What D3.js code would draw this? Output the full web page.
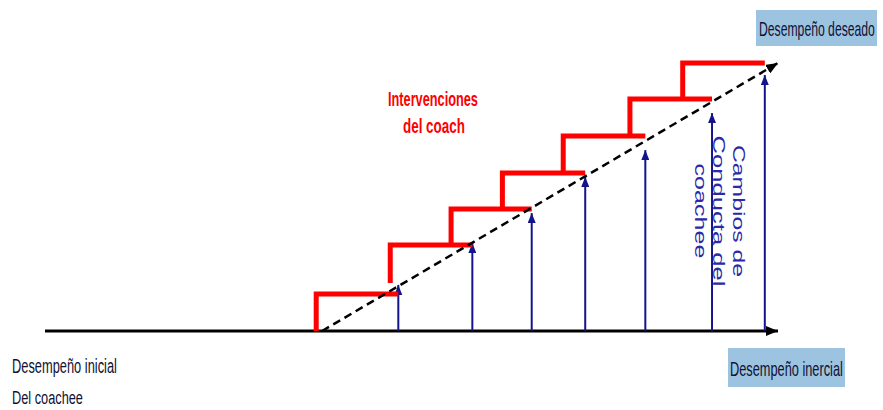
<!DOCTYPE html>
<html>
<head>
<meta charset="utf-8">
<script src="https://cdn.jsdelivr.net/npm/d3@7"></script>
<style>
  html, body { margin: 0; padding: 0; background: #fff; }
  svg { display: block; }
</style>
</head>
<body>
<svg id="chart" width="883" height="410"></svg>
<script>
// ---- Data (abstract units: x = progreso 0..100, y = desempeño 0..100) ----
const stepStartX  = [37.0, 47.1, 55.4, 62.4, 70.7, 79.8, 87.0];
const stepEndX    = [48.2, 58.3, 66.4, 73.7, 81.9, 91.0, 98.2];
const stepBottom  = [0.0, 17.9, 32.1, 45.5, 59.0, 72.8, 86.6];
const stepLevel   = [13.8, 32.1, 45.5, 59.0, 72.8, 86.6, 100.0];
const arrowTop    = [17.2, 32.8, 44.0, 57.5, 67.5, 81.3, 95.5];
const trendStart  = [37.8, 0];
const trendEnd    = [100, 100];
const axisDomain  = [0, 100];

const labelTop      = "Desempeño deseado";
const labelRight    = "Desempeño inercial";
const labelLeft     = ["Desempeño inicial", "Del coachee"];
const labelCoach    = ["Intervenciones", "del coach"];
const labelCoachee  = ["Cambios de", "Conducta del", "coachee"];

// ---- Scales ----
const x = d3.scaleLinear().domain(axisDomain).range([45, 778]);
const y = d3.scaleLinear().domain(axisDomain).range([331, 63]);

const svg = d3.select("#chart");
const defs = svg.append("defs");

defs.append("marker")
  .attr("id", "arrowBlack").attr("markerUnits", "userSpaceOnUse")
  .attr("viewBox", "0 0 12 10").attr("refX", 12).attr("refY", 5)
  .attr("markerWidth", 12).attr("markerHeight", 10).attr("orient", "auto")
  .append("path").attr("d", "M0,0 L12,5 L0,10 Z").attr("fill", "#000");

defs.append("marker")
  .attr("id", "arrowBlue").attr("markerUnits", "userSpaceOnUse")
  .attr("viewBox", "0 0 10 8").attr("refX", 10).attr("refY", 4)
  .attr("markerWidth", 10).attr("markerHeight", 8).attr("orient", "auto")
  .append("path").attr("d", "M0,0 L10,4 L0,8 Z").attr("fill", "#14148a");

// ---- Baseline axis ----
svg.append("line")
  .attr("x1", x(axisDomain[0])).attr("y1", y(0))
  .attr("x2", x(axisDomain[1])).attr("y2", y(0))
  .attr("stroke", "#000").attr("stroke-width", 3)
  .attr("marker-end", "url(#arrowBlack)");

// ---- Blue arrows (cambios de conducta) ----
svg.append("g").selectAll("line")
  .data(stepEndX.map((v, i) => ({ x: v, top: arrowTop[i] })))
  .join("line")
  .attr("x1", d => x(d.x)).attr("y1", y(0))
  .attr("x2", d => x(d.x)).attr("y2", d => y(d.top))
  .attr("stroke", "#14148a").attr("stroke-width", 2)
  .attr("marker-end", "url(#arrowBlue)");

// ---- Red steps (intervenciones) ----
const steps = stepStartX.map((v, i) => ({
  x0: v, x1: stepEndX[i], b: stepBottom[i], lvl: stepLevel[i]
}));
svg.append("g").selectAll("path")
  .data(steps)
  .join("path")
  .attr("d", d => `M${x(d.x0)},${y(d.b)} V${y(d.lvl)} H${x(d.x1)}`)
  .attr("fill", "none").attr("stroke", "#ff0000").attr("stroke-width", 5)
  .attr("stroke-linejoin", "miter").attr("stroke-linecap", "butt");

// ---- Dashed trend ----
svg.append("line")
  .attr("x1", x(trendStart[0])).attr("y1", y(trendStart[1]))
  .attr("x2", x(trendEnd[0])).attr("y2", y(trendEnd[1]))
  .attr("stroke", "#000").attr("stroke-width", 2.5)
  .attr("stroke-dasharray", "8,5")
  .attr("marker-end", "url(#arrowBlack)");

// ---- Labels ----
const F = "'Liberation Sans', Arial, sans-serif";

// condensed text helper: scales glyphs horizontally to fit a target width
function condensed(parent, txt, px, py, len, opts) {
  const g = parent.append("g");
  const t = g.append("text").attr("x", 0).attr("y", 0)
    .attr("font-family", F).attr("font-size", opts.size || 20)
    .attr("font-weight", opts.weight || "normal")
    .attr("fill", opts.fill || "#111133")
    .text(txt);
  const w = t.node().getComputedTextLength();
  const s = len / w;
  g.attr("transform", `translate(${px},${py}) scale(${s},1)`);
  return g;
}

// top-right box
svg.append("rect").attr("x", 756).attr("y", 10).attr("width", 121).attr("height", 36)
  .attr("fill", "#9cc3df");
condensed(svg, labelTop, 759, 36, 116, {});

// bottom-right box
svg.append("rect").attr("x", 728).attr("y", 348).attr("width", 117).attr("height", 39)
  .attr("fill", "#9cc3df");
condensed(svg, labelRight, 730, 376, 113, {});

// bottom-left
const leftLens = [105, 71];
const leftY = [373, 404];
const leftSize = [20, 19];
labelLeft.forEach((t, i) => condensed(svg, t, 12, leftY[i], leftLens[i], { size: leftSize[i] }));

// coach label (red bold)
const coachLens = [90, 62];
const coachY = [106, 133];
const coachX = [433, 434];
labelCoach.forEach((t, i) =>
  condensed(svg, t, coachX[i] - coachLens[i] / 2, coachY[i], coachLens[i],
            { weight: "bold", fill: "#ff0000" }));

// coachee label (rotated, blue, stretched along reading direction)
const coacheeBaseX = [733, 713, 695];
const coacheeLens = [132, 151, 95];
labelCoachee.forEach((t, i) => {
  const g = svg.append("g")
    .attr("transform", `translate(${coacheeBaseX[i]},${211 - coacheeLens[i] / 2}) rotate(90)`);
  condensed(g, t, 0, 0, coacheeLens[i], { size: 17, fill: "#2a2aa8" });
});
</script>
</body>
</html>
